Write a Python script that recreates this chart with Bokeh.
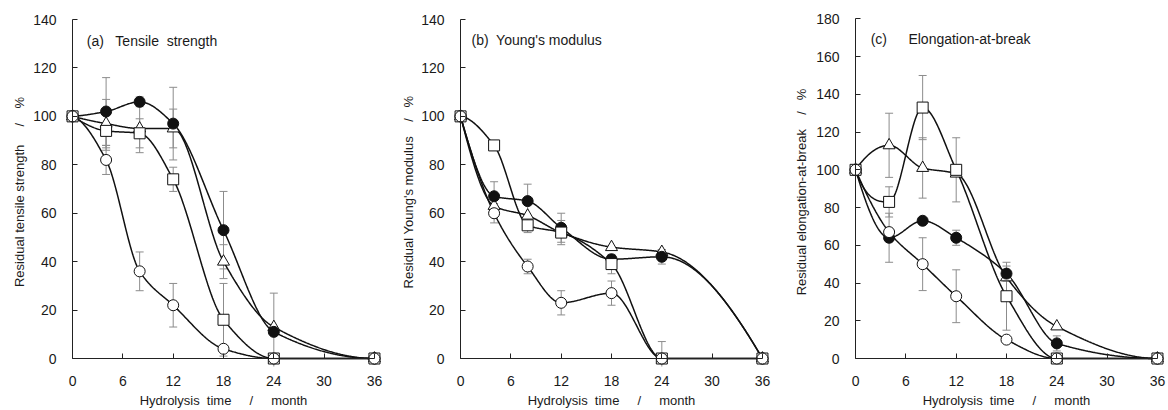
import numpy as np
from bokeh.plotting import figure
from bokeh.layouts import row
from bokeh.models import Range1d, FixedTicker, Label, Whisker, ColumnDataSource, TeeHead, LinearAxis
from bokeh.embed import file_html
from bokeh.resources import INLINE

# ---------------- data ----------------
months = [0, 4, 8, 12, 18, 24, 36]
x_ticks = [0, 6, 12, 18, 24, 30, 36]

# (a) Tensile strength, residual %
a_open_circle = [100, 82, 36, 22, 4, 0, 0]
a_open_circle_err = [0, 6, 8, 9, 0, 0, 0]
a_open_square = [100, 94, 93, 74, 16, 0, 0]
a_open_square_err = [0, 8, 6, 5, 15, 0, 0]
a_open_triangle = [100, 97, 95, 95, 40, 13, 0]
a_open_triangle_err = [0, 10, 10, 8, 7, 0, 0]
a_filled_circle = [100, 102, 106, 97, 53, 11, 0]
a_filled_circle_err = [0, 14, 2, 15, 16, 16, 0]

# (b) Young's modulus, residual %
b_open_circle = [100, 60, 38, 23, 27, 0, 0]
b_open_circle_err = [0, 4, 3, 5, 5, 7, 0]
b_open_square = [100, 88, 55, 52, 39, 0, 0]
b_open_square_err = [0, 0, 3, 5, 4, 0, 0]
b_open_triangle = [100, 63, 59, 52, 46, 44, 0]
b_open_triangle_err = [0, 0, 0, 0, 0, 1, 0]
b_filled_circle = [100, 67, 65, 54, 41, 42, 0]
b_filled_circle_err = [0, 6, 7, 6, 0, 3, 0]

# (c) Elongation-at-break, residual %
c_open_circle = [100, 67, 50, 33, 10, 0, 0]
c_open_circle_err = [0, 0, 14, 14, 0, 0, 0]
c_open_square = [100, 83, 133, 100, 33, 0, 0]
c_open_square_err = [0, 8, 17, 17, 18, 0, 0]
c_open_triangle = [100, 113, 101, 98, 43, 17, 0]
c_open_triangle_err = [0, 17, 16, 0, 0, 0, 0]
c_filled_circle = [100, 64, 73, 64, 45, 8, 0]
c_filled_circle_err = [0, 13, 0, 4, 4, 4, 0]

FONT = "Liberation Sans"
TXT = "#1a1a1a"
ERR = "#8c8c8c"
INK = "#111111"


def gap(n):
    # n visible spaces that do not collapse in SVG text
    return "\u00a0" * (n - 1) + " "


X_TITLE = "Hydrolysis" + gap(2) + "time" + gap(5) + "/" + gap(5) + "month"
A_YTITLE = "Residual tensile strength" + gap(5) + "/" + gap(4) + "%"
B_YTITLE = "Residual Young's modulus" + gap(4) + "/" + gap(3) + "%"
C_YTITLE = "Residual elongation-at-break" + gap(4) + "/" + gap(3) + "%"


def pchip(x, y, xs):
    x = np.asarray(x, float)
    y = np.asarray(y, float)
    n = len(x)
    h = np.diff(x)
    dl = np.diff(y) / h
    d = np.zeros(n)
    for k in range(1, n - 1):
        if dl[k - 1] * dl[k] > 0:
            w1 = 2 * h[k] + h[k - 1]
            w2 = h[k] + 2 * h[k - 1]
            d[k] = (w1 + w2) / (w1 / dl[k - 1] + w2 / dl[k])

    def end(h0, h1, d0, d1):
        s = ((2 * h0 + h1) * d0 - h0 * d1) / (h0 + h1)
        if np.sign(s) != np.sign(d0):
            s = 0.0
        elif np.sign(d0) != np.sign(d1) and abs(s) > abs(3 * d0):
            s = 3 * d0
        return s

    d[0] = end(h[0], h[1], dl[0], dl[1])
    d[-1] = end(h[-1], h[-2], dl[-1], dl[-2])
    out = np.empty_like(xs)
    for i, xv in enumerate(xs):
        k = min(np.searchsorted(x, xv, side="right") - 1, n - 2)
        k = max(k, 0)
        t = (xv - x[k]) / h[k]
        h00 = 2 * t**3 - 3 * t**2 + 1
        h10 = t**3 - 2 * t**2 + t
        h01 = -2 * t**3 + 3 * t**2
        h11 = t**3 - t**2
        out[i] = h00 * y[k] + h10 * h[k] * d[k] + h01 * y[k + 1] + h11 * h[k] * d[k + 1]
    return out


def style_text(ax):
    ax.major_label_text_font = FONT
    ax.major_label_text_font_size = "14px"
    ax.major_label_text_color = TXT
    ax.axis_label_text_font = FONT
    ax.axis_label_text_font_size = "13px"
    ax.axis_label_text_font_style = "normal"
    ax.axis_label_text_color = TXT


def panel(width, border_left, border_right, ymax, ylo, yhi, ylabel, ylabel_standoff, series, tag_text, tag_xy, tag2=None):
    p = figure(width=width, height=410, x_range=Range1d(-1.2, 37.2), y_range=Range1d(ylo, yhi),
               output_backend="svg", toolbar_location=None,
               min_border_left=border_left, min_border_right=border_right,
               min_border_top=17, min_border_bottom=44)
    p.outline_line_color = None
    p.xgrid.visible = False
    p.ygrid.visible = False
    p.background_fill_color = "white"
    p.border_fill_color = "white"

    yticks = list(range(0, ymax + 1, 20))

    # label-only axes at the frame edges
    xa = p.xaxis[0]
    ya = p.yaxis[0]
    for ax in (xa, ya):
        ax.axis_line_color = None
        ax.major_tick_line_color = None
        ax.minor_tick_line_color = None
        style_text(ax)
    xa.ticker = FixedTicker(ticks=x_ticks)
    xa.major_label_standoff = 3
    xa.axis_label = X_TITLE
    xa.axis_label_standoff = 4
    ya.ticker = FixedTicker(ticks=yticks)
    ya.major_label_standoff = 0
    ya.axis_label = ylabel
    ya.axis_label_standoff = ylabel_standoff

    # axis lines with inward ticks, placed at x=0 / y=0 (no labels drawn)
    fx = LinearAxis(fixed_location=0, ticker=FixedTicker(ticks=x_ticks), bounds=(0, 36))
    fy = LinearAxis(fixed_location=0, ticker=FixedTicker(ticks=yticks), bounds=(0, ymax))
    for ax in (fx, fy):
        ax.axis_line_color = "#222222"
        ax.axis_line_width = 1
        ax.major_tick_in = 5
        ax.major_tick_out = 0
        ax.major_tick_line_color = "#222222"
        ax.minor_tick_line_color = None
        ax.major_label_text_color = None
        ax.major_label_text_font_size = "0px"
        ax.major_label_standoff = 0
    p.add_layout(fx, "below")
    p.add_layout(fy, "left")

    xs = np.linspace(0, 36, 400)
    # error bars
    for vals, errs, kind in series:
        bx = [m for m, e in zip(months, errs) if e > 0]
        up = [v + e for v, e in zip(vals, errs) if e > 0]
        lo = [v - e for v, e in zip(vals, errs) if e > 0]
        if bx:
            src = ColumnDataSource(dict(x=bx, upper=up, lower=lo))
            p.add_layout(Whisker(source=src, base="x", upper="upper", lower="lower",
                                 line_color=ERR, line_width=1,
                                 upper_head=TeeHead(size=8, line_color=ERR, line_width=1),
                                 lower_head=TeeHead(size=8, line_color=ERR, line_width=1)))
    # curves
    for vals, errs, kind in series:
        p.line(xs, pchip(months, vals, xs), line_color=INK, line_width=1.5)
    # markers
    order = {"triangle": 0, "filled": 1, "square": 2, "circle": 3}
    for vals, errs, kind in sorted(series, key=lambda s: order[s[2]]):
        if kind == "circle":
            p.scatter(months, vals, marker="circle", size=11, fill_color="white", line_color=INK, line_width=1)
        elif kind == "filled":
            p.scatter(months, vals, marker="circle", size=11, fill_color=INK, line_color=INK, line_width=1)
        elif kind == "square":
            p.scatter(months, vals, marker="square", size=11, fill_color="white", line_color=INK, line_width=1)
        else:
            p.scatter(months, vals, marker="triangle", size=12, fill_color="white", line_color=INK, line_width=1)

    p.add_layout(Label(x=tag_xy[0], y=tag_xy[1], text=tag_text, text_font=FONT, text_font_size="14px",
                       text_color=TXT, text_baseline="middle"))
    if tag2:
        p.add_layout(Label(x=tag2[1], y=tag_xy[1], text=tag2[0], text_font=FONT, text_font_size="14px",
                           text_color=TXT, text_baseline="middle"))
    return p


pa = panel(386, 62, 2, 140, -3.30, 140.826, A_YTITLE, 3,
           [(a_open_circle, a_open_circle_err, "circle"),
            (a_open_square, a_open_square_err, "square"),
            (a_open_triangle, a_open_triangle_err, "triangle"),
            (a_filled_circle, a_filled_circle_err, "filled")],
           "(a)" + gap(3) + "Tensile" + gap(2) + "strength", (1.7, 131.3))
pb = panel(389, 64, 3, 140, -3.30, 140.826, B_YTITLE, 2,
           [(b_open_circle, b_open_circle_err, "circle"),
            (b_open_square, b_open_square_err, "square"),
            (b_open_triangle, b_open_triangle_err, "triangle"),
            (b_filled_circle, b_filled_circle_err, "filled")],
           "(b)" + gap(2) + "Young's modulus", (1.3, 131.7))
pc = panel(393, 70, 1, 180, -4.24, 180.74, C_YTITLE, 4,
           [(c_open_circle, c_open_circle_err, "circle"),
            (c_open_square, c_open_square_err, "square"),
            (c_open_triangle, c_open_triangle_err, "triangle"),
            (c_filled_circle, c_filled_circle_err, "filled")],
           "(c)", (1.8, 169.4), tag2=("Elongation-at-break", 6.3))

layout = row(pa, pb, pc, spacing=0)
open("out.html", "w").write(file_html(layout, INLINE))
